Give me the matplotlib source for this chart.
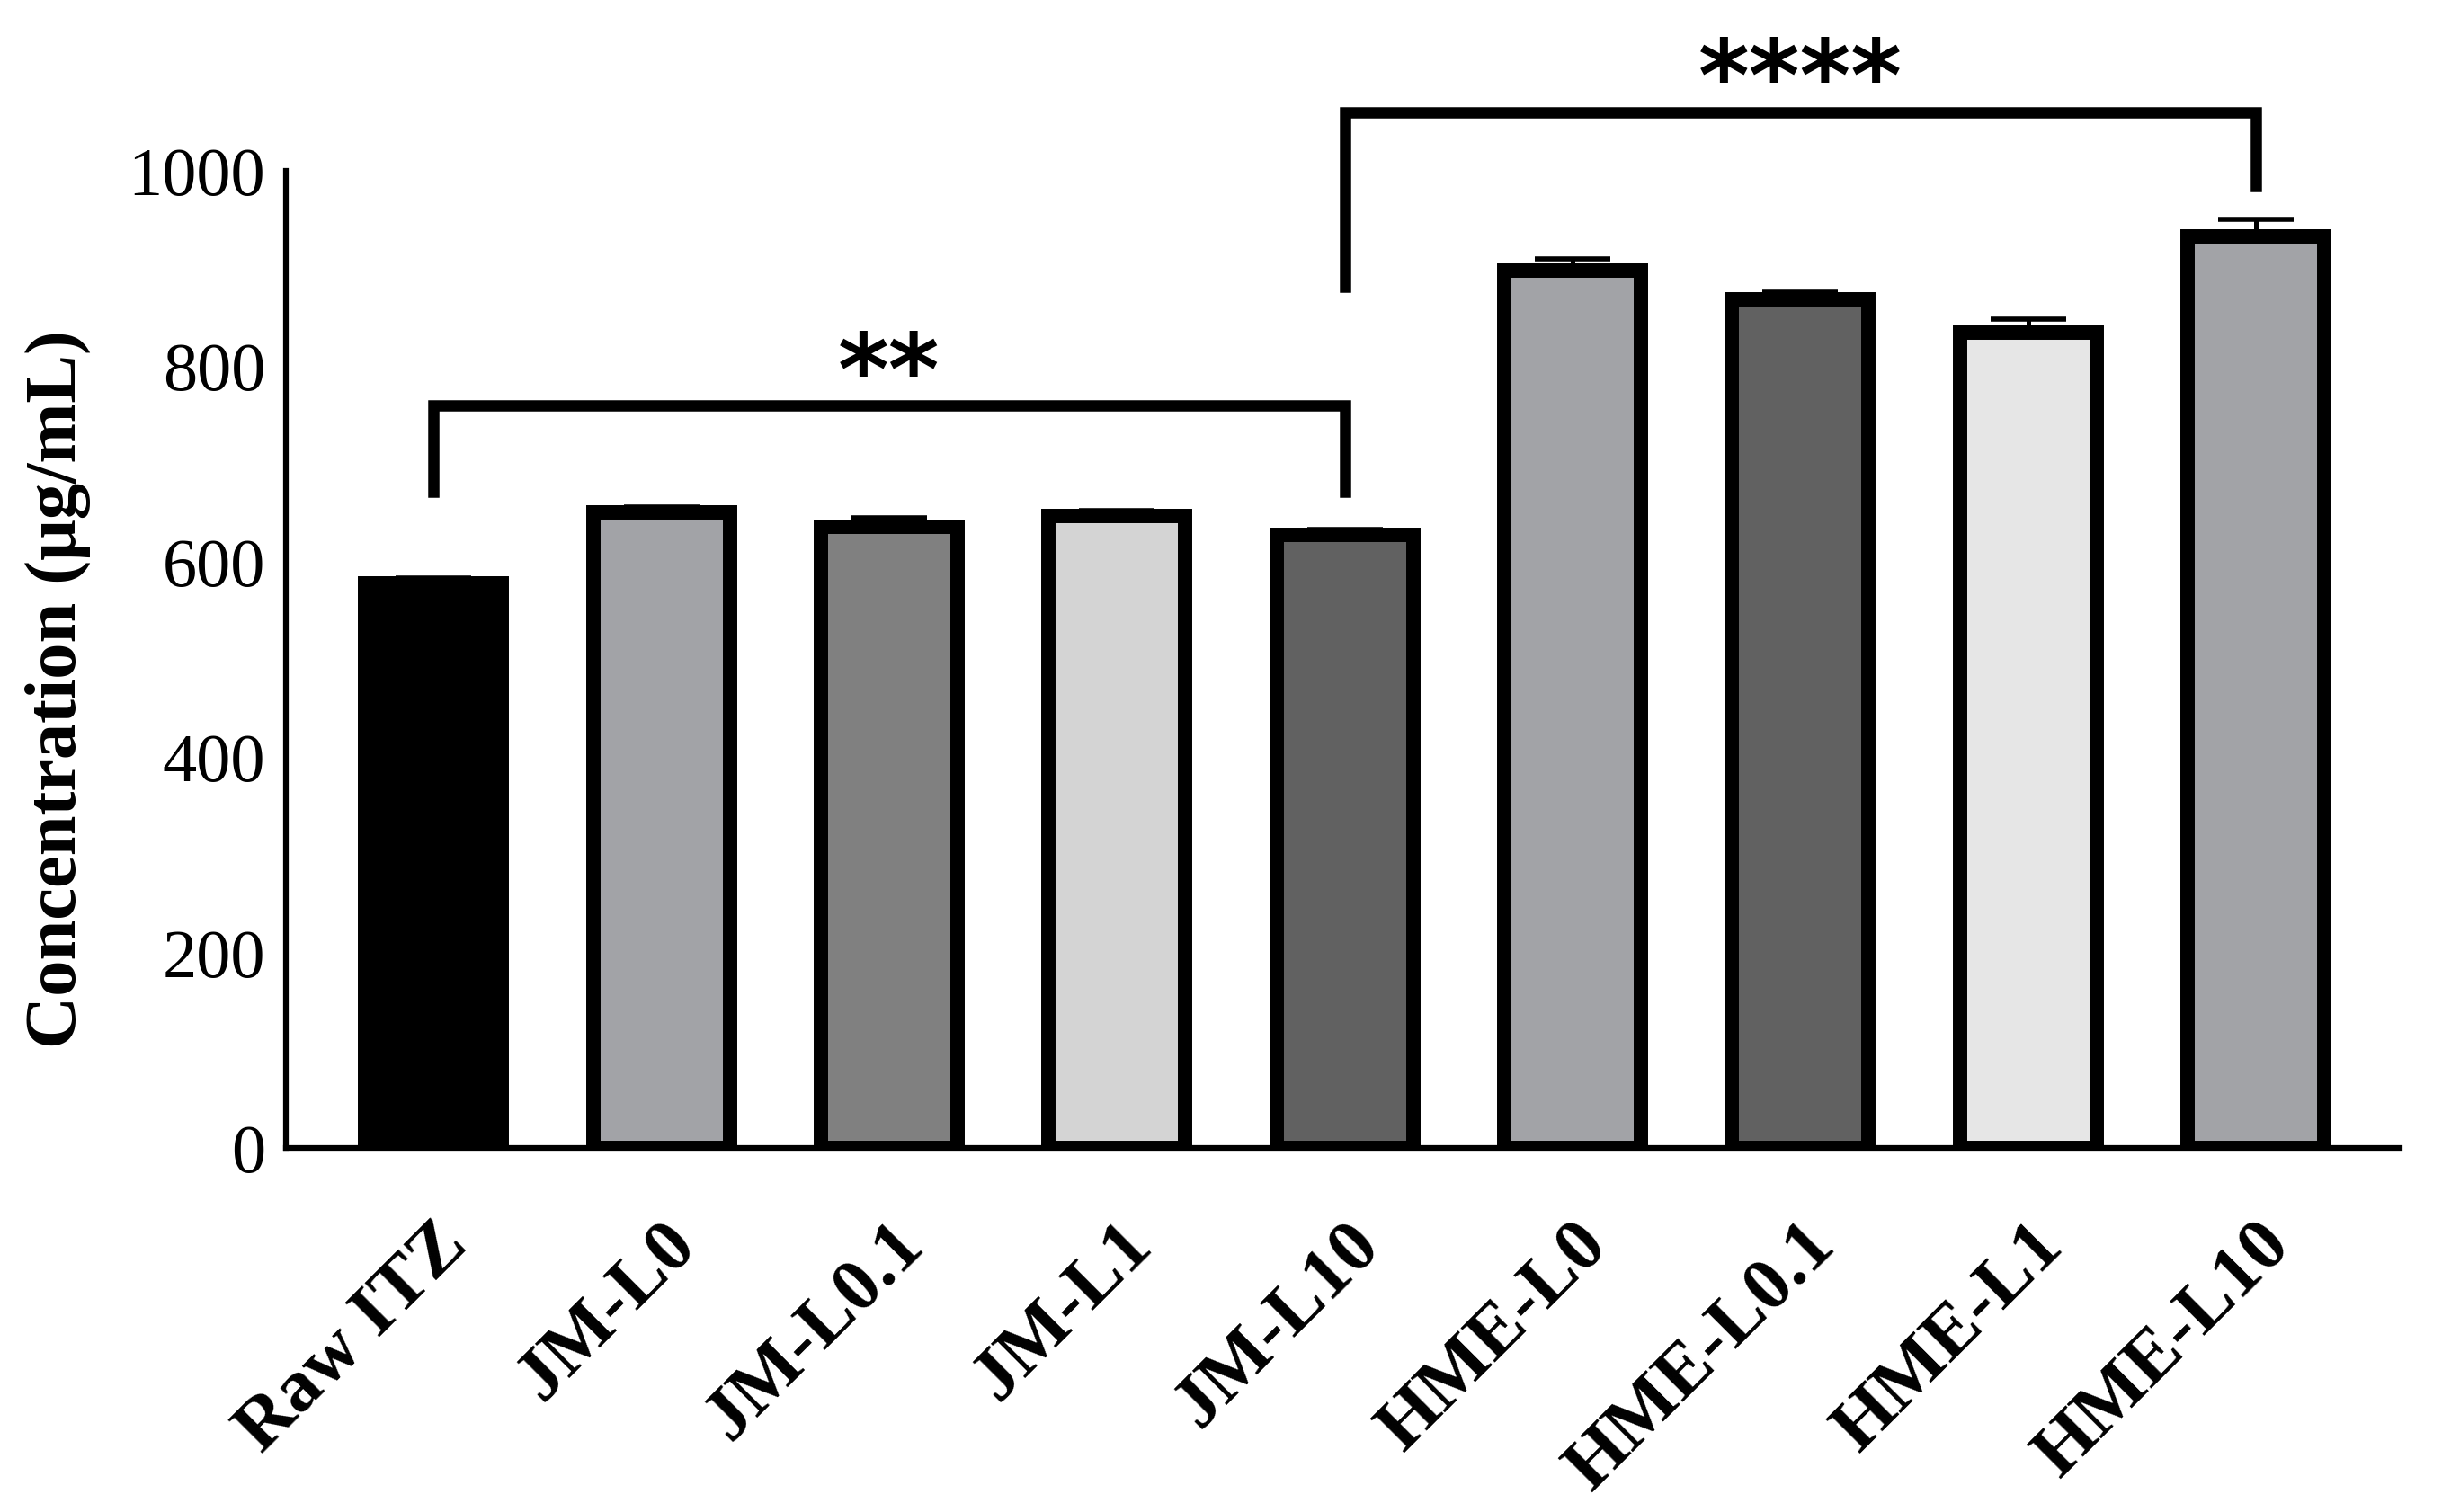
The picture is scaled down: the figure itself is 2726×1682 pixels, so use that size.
import numpy as np
import matplotlib
matplotlib.use('Agg')
import matplotlib.pyplot as plt

# data
groups = ['Raw ITZ', 'JM-L0', 'JM-L0.1', 'JM-L1', 'JM-L10',
          'HME-L0', 'HME-L0.1', 'HME-L1', 'HME-L10']
conc = [578, 651, 636, 647, 628, 898, 869, 835, 933]
sd = [6, 5, 9, 6, 5, 12, 7, 13, 18]
colors = ['#000000', '#a2a3a7', '#808080', '#d4d4d4', '#616161',
          '#a2a3a7', '#616161', '#e6e6e6', '#a2a3a7']

# significance brackets: (start bar, end bar, height, left leg, right leg, label)
sig_lo = (0, 4, 760, 672, 672, '**')
sig_hi = (4, 8, 1060, 882, 985, '****')

plt.rcParams['font.family'] = ['Liberation Serif', 'DejaVu Serif']

fig = plt.figure(figsize=(27.26, 16.82), dpi=100)
ax = fig.add_axes([0.1165, 0.2405, 0.8625, 0.6464])

x = np.arange(len(groups))
ax.bar(x, conc, width=0.6, color=colors, edgecolor='black', linewidth=11.5, zorder=2)
ax.errorbar(x, conc, yerr=[np.zeros(len(sd)), sd], fmt='none', ecolor='black',
            elinewidth=3.6, capsize=30, capthick=4, zorder=3, clip_on=False)

ax.set_xlim(-0.65, 8.63)
ax.set_ylim(0, 1000)
ax.set_yticks([0, 200, 400, 600, 800, 1000])
ax.tick_params(axis='y', length=0, pad=16, labelsize=55)
ax.set_xticks(x)
ax.set_xticklabels(groups, rotation=45, ha='right', va='top', rotation_mode='anchor',
                   fontsize=60, fontweight='bold')
ax.tick_params(axis='x', length=0, pad=50)

for s in ['top', 'right']:
    ax.spines[s].set_visible(False)
for s in ['left', 'bottom']:
    ax.spines[s].set_linewidth(4.5)

ax.set_ylabel('Concentration (μg/mL)', fontsize=58, fontweight='bold')
ax.yaxis.set_label_coords(-0.092, 0.47)

for a, b, h, l1, l2, lab in [sig_lo, sig_hi]:
    ax.plot([a, a, b, b], [l1, h, h, l2], color='black', lw=9,
            solid_joinstyle='miter', clip_on=False, zorder=4)
    ax.text((a + b) / 2, h + 30, lab, ha='center', va='center', fontsize=78,
            fontweight='bold', family='DejaVu Sans')

fig.savefig('out.png', dpi=100)
